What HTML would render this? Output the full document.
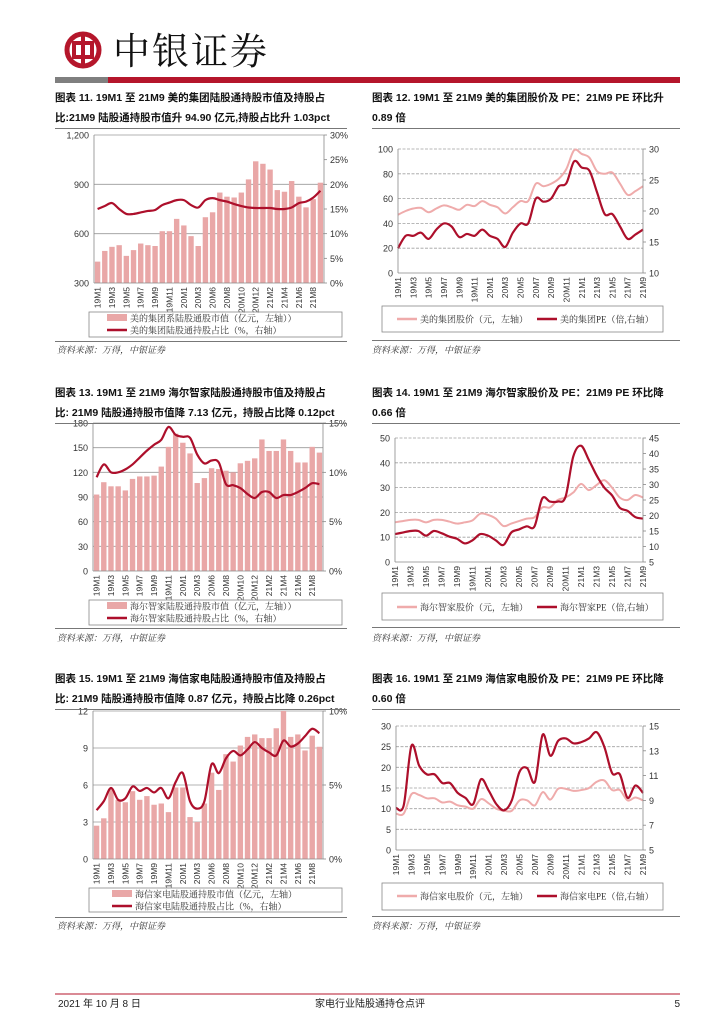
<!DOCTYPE html>
<html><head><meta charset="utf-8">
<style>
html,body{margin:0;padding:0;background:#fff;}
body{width:724px;height:1024px;position:relative;overflow:hidden;font-family:"Liberation Sans","Noto Sans CJK SC",sans-serif;}
.t{position:absolute;font-family:"Liberation Sans","Noto Sans CJK SC",sans-serif;font-weight:bold;font-size:10.5px;color:#111;white-space:nowrap;line-height:20px;}
.src{position:absolute;font-size:9px;font-style:italic;color:#333;font-family:"Liberation Serif","Noto Serif CJK SC",serif;}
.rule{position:absolute;height:1px;background:#777;}
</style></head>
<body>
<svg id="page" width="724" height="1024" style="position:absolute;left:0;top:0" xmlns="http://www.w3.org/2000/svg">
  <g>
    <circle cx="83" cy="50" r="16" fill="none" stroke="#b5162b" stroke-width="5"/>
    <rect x="74" y="43" width="18" height="14" fill="none" stroke="#b5162b" stroke-width="4"/>
    <rect x="81" y="34" width="4" height="32" fill="#b5162b"/>
  </g>
  <text x="113" y="64" font-family="Noto Serif CJK SC, serif" font-size="37" fill="#111" letter-spacing="2">中银证券</text>
  <rect x="55" y="77" width="53" height="6" fill="#7f7f7f"/>
  <rect x="108" y="77" width="572" height="6" fill="#b5162b"/>
  <line x1="55" y1="994" x2="680" y2="994" stroke="#b5162b" stroke-width="1"/>
  <text x="58" y="1007" font-size="10" fill="#222">2021 年 10 月 8 日</text>
  <text x="370" y="1007" font-size="10" fill="#222" text-anchor="middle">家电行业陆股通持仓点评</text>
  <text x="680" y="1007" font-size="10" fill="#222" text-anchor="end">5</text>
</svg>

<div class="t" style="left:55px;top:88px;">图表 11. 19M1 至 21M9 美的集团陆股通持股市值及持股占<br>比:21M9 陆股通持股市值升 94.90 亿元,持股占比升 1.03pct</div>
<div class="rule" style="left:55px;top:128px;width:292px;"></div>
<div class="t" style="left:372px;top:88px;">图表 12. 19M1 至 21M9 美的集团股价及 PE：21M9 PE 环比升<br>0.89 倍</div>
<div class="rule" style="left:372px;top:128px;width:308px;"></div>
<div class="t" style="left:55px;top:383px;">图表 13. 19M1 至 21M9 海尔智家陆股通持股市值及持股占<br>比: 21M9 陆股通持股市值降 7.13 亿元，持股占比降 0.12pct</div>
<div class="rule" style="left:55px;top:423px;width:292px;"></div>
<div class="t" style="left:372px;top:383px;">图表 14. 19M1 至 21M9 海尔智家股价及 PE：21M9 PE 环比降<br>0.66 倍</div>
<div class="rule" style="left:372px;top:423px;width:308px;"></div>
<div class="t" style="left:55px;top:669px;">图表 15. 19M1 至 21M9 海信家电陆股通持股市值及持股占<br>比: 21M9 陆股通持股市值降 0.87 亿元，持股占比降 0.26pct</div>
<div class="rule" style="left:55px;top:709px;width:292px;"></div>
<div class="t" style="left:372px;top:669px;">图表 16. 19M1 至 21M9 海信家电股价及 PE：21M9 PE 环比降<br>0.60 倍</div>
<div class="rule" style="left:372px;top:709px;width:308px;"></div>

<div class="rule" style="left:55px;top:341px;width:292px;"></div>
<div class="src" style="left:57px;top:343px;">资料来源：万得，中银证券</div>
<div class="rule" style="left:372px;top:340px;width:308px;"></div>
<div class="src" style="left:372px;top:343px;">资料来源：万得，中银证券</div>
<div class="rule" style="left:55px;top:628px;width:292px;"></div>
<div class="src" style="left:57px;top:631px;">资料来源：万得，中银证券</div>
<div class="rule" style="left:372px;top:627px;width:308px;"></div>
<div class="src" style="left:372px;top:631px;">资料来源：万得，中银证券</div>
<div class="rule" style="left:55px;top:917px;width:292px;"></div>
<div class="src" style="left:57px;top:919px;">资料来源：万得，中银证券</div>
<div class="rule" style="left:372px;top:916px;width:308px;"></div>
<div class="src" style="left:372px;top:919px;">资料来源：万得，中银证券</div>

<script>
// ---------- data ----------
const barCats = ["19M1","","19M3","","19M5","","19M7","","19M9","","19M11","","20M1","","20M3","","20M6","","20M8","","20M10","","20M12","","21M2","","21M4","","21M6","","21M8",""];
const lineCats = ["19M1","","19M3","","19M5","","19M7","","19M9","","19M11","","20M1","","20M3","","20M5","","20M7","","20M9","","20M11","","21M1","","21M3","","21M5","","21M7","","21M9"];

const c1Bars = [430,495,520,530,465,500,540,530,525,615,615,690,650,585,525,700,730,850,825,820,850,930,1040,1025,990,865,855,920,825,760,810,910];
const c1Line = [15,15.6,16.2,15,14,14,14.3,14.6,14.8,15.8,16.3,16.8,16.8,15.8,15.3,16.8,17.2,16.8,16.5,16,15.6,15.3,15.2,15.2,15.2,15,15,15.3,16.2,16.5,17.3,18.7];
const c1LeftTicks = [300,600,900,1200];
const c1LeftLabels = ["300","600","900","1,200"];
const c1RightTicks = [0,5,10,15,20,25,30];
const c1RightLabels = ["0%","5%","10%","15%","20%","25%","30%"];

const c2Price = [47,50,52,52.5,49,52,54.5,53,51,55,54,58,55,53,48,53,58,58,72,70,72,76,84,99,96,93,82,80,81,72,63,66,70];
const c2PE = [14,16,16,16.5,15.5,17,18,17.5,15.8,16.3,16,17,16,15.5,14.2,16.5,18,18,22,21.5,22,24,24.5,28,27,26.5,23,19.5,19.5,17.5,15.5,16.2,17];
const c2LeftTicks = [0,20,40,60,80,100];
const c2RightTicks = [10,15,20,25,30];

const c3Bars = [93,108,103,103,98,112,115,115,116,127,151,167,156,143,107,113,125,124,122,120,131,134,137,160,146,146,160,146,132,132,151,144];
const c3Line = [9.5,10.8,10,10,10.3,10.8,11.5,12.2,12.8,13.3,14.6,13.8,13.6,13.5,11.8,10.9,11.2,11,8.8,8.7,8.4,7.8,7.4,8,8,7.4,7.7,7.7,8,8.4,8.9,8.8];
const c3LeftTicks = [0,30,60,90,120,150,180];
const c3RightTicks = [0,5,10,15];
const c3RightLabels = ["0%","5%","10%","15%"];

const c4Price = [16,16.5,17,17,16,17,17,16.3,15.5,16,16.8,19.5,19,17.5,14.5,15.5,16.5,17.5,18,22,22,25,26,28,31.5,29,31,33,30,26,25,27,26];
const c4PE = [14,14.5,15,15,13.5,15,14.3,13.2,12.5,11,12,14,13.5,12,10.5,14.5,15.5,16.5,16.5,25.5,24.5,24.5,26,39,42.5,38,33,29,26.5,22.5,21.5,19.5,19];
const c4LeftTicks = [0,10,20,30,40,50];
const c4RightTicks = [5,10,15,20,25,30,35,40,45];

const c5Bars = [2.7,3.3,5.7,4.8,4.6,5.5,4.8,5.1,4.4,4.5,3.8,5.8,5.8,3.4,3,4.5,7,5.6,8.5,7.9,9.2,9.9,10.1,9.8,9.8,10.6,12,9.9,10.1,8.8,10,9.1];
const c5Line = [3.3,3.9,4.8,4,4.1,4.9,4.6,4.8,4.5,4.8,4.1,5.2,5.8,3.9,3.4,3.9,6.4,5.8,6.8,7.3,7,7.4,7.9,7.5,7.2,7,8,7.6,7.8,8.3,8.8,8.5];
const c5LeftTicks = [0,3,6,9,12];
const c5RightTicks = [0,5,10];
const c5RightLabels = ["0%","5%","10%"];

const c6Price = [8.8,8.8,13.5,13.3,12.5,12.5,11.5,11.7,10.8,10.5,10,12.3,11.3,10,9.5,9.5,12,12,10.8,14,12.2,14.8,14.8,14.3,14.5,15,16.5,16.8,14.5,14.5,12,12.7,12];
const c6PE = [8.4,8.6,13.4,11.8,11.1,11.1,10.4,10.4,9.6,9.2,8.7,10.7,9.8,8.7,8.2,9,11.3,11.6,10.5,14.3,12.6,13.8,14,13.6,13.7,14,14.5,13.3,11.2,11.1,9.2,10.2,9.6];
const c6LeftTicks = [0,5,10,15,20,25,30];
const c6RightTicks = [5,7,9,11,13,15];

// ---------- drawing ----------
const NS = "http://www.w3.org/2000/svg";
const page = document.getElementById("page");
const BAR = "#e9a7a7", DARK = "#ad0f2b", LIGHT = "#efabab", AX = "#888";

function mk(tag, attrs, parent) {
  const e = document.createElementNS(NS, tag);
  for (const k in attrs) e.setAttribute(k, attrs[k]);
  (parent || page).appendChild(e);
  return e;
}
function smooth(pts) {
  let d = "M" + pts[0][0] + "," + pts[0][1];
  for (let i = 0; i < pts.length - 1; i++) {
    const p0 = pts[Math.max(0, i - 1)], p1 = pts[i], p2 = pts[i + 1], p3 = pts[Math.min(pts.length - 1, i + 2)];
    const t = 6;
    const c1x = p1[0] + (p2[0] - p0[0]) / t, c1y = p1[1] + (p2[1] - p0[1]) / t;
    const c2x = p2[0] - (p3[0] - p1[0]) / t, c2y = p2[1] - (p3[1] - p1[1]) / t;
    d += " C" + c1x + "," + c1y + " " + c2x + "," + c2y + " " + p2[0] + "," + p2[1];
  }
  return d;
}
function axisY(min, max, y0, y1) { return v => y1 - (v - min) / (max - min) * (y1 - y0); }

function drawChart(id, o) {
  const g = mk("g", {});
  
  
  const yL = axisY(o.lt[0], o.lt[o.lt.length - 1], o.y0, o.y1);
  const yR = axisY(o.rt[0], o.rt[o.rt.length - 1], o.y0, o.y1);
  const n = o.cats.length;
  const xAt = o.mode === "bar" ? (i => o.x0 + (i + 0.5) * (o.x1 - o.x0) / n) : (i => o.x0 + i * (o.x1 - o.x0) / (n - 1));
  o.lt.forEach((v, i) => {
    const y = yL(v);
    if (i > 0) {
      const gl = mk("line", {x1: o.x0, x2: o.x1, y1: y, y2: y, stroke: o.mode === "bar" ? "#9a9a9a" : "#a0a0a0", "stroke-width": 0.8, "stroke-dasharray": o.mode === "bar" ? "none" : "3,1.5"}, g);
      
      
    }
    const t = mk("text", {x: o.x0 - 5, y: y + 3.5, "font-size": 9, fill: "#333", "text-anchor": "end"}, g);
    
    
    t.textContent = o.ll ? o.ll[i] : String(v);
  });
  o.rt.forEach((v, i) => {
    const y = yR(v);
    const t = mk("text", {x: o.x1 + 6, y: y + 3.5, "font-size": 9, fill: "#333"}, g);
    
    
    t.textContent = o.rl ? o.rl[i] : String(v);
    const tk = mk("line", {x1: o.x1, x2: o.x1 + 3, y1: y, y2: y, stroke: AX, "stroke-width": 0.8}, g);
    
    
  });
  if (o.bars) {
    const bw = (o.x1 - o.x0) / n * 0.75;
    o.bars.forEach((v, i) => {
      const y = yL(v);
      const r = mk("rect", {x: xAt(i) - bw / 2, y: y, width: bw, height: o.y1 - y, fill: BAR}, g);
      
      
    });
  }
  if (o.lineL) {
    const p = mk("path", {d: smooth(o.lineL.map((v, i) => [xAt(i), yL(v)])), fill: "none", stroke: LIGHT, "stroke-width": 2}, g);
    
    
  }
  if (o.lineR) {
    const p = mk("path", {d: smooth(o.lineR.map((v, i) => [xAt(i), yR(v)])), fill: "none", stroke: DARK, "stroke-width": 2.2}, g);
    
    
  }
  const a1 = mk("line", {x1: o.x0, x2: o.x0, y1: o.y0, y2: o.y1, stroke: AX, "stroke-width": 0.8}, g);
  
  
  const a2 = mk("line", {x1: o.x1, x2: o.x1, y1: o.y0, y2: o.y1, stroke: AX, "stroke-width": 0.8}, g);
  
  
  const a3 = mk("line", {x1: o.x0, x2: o.x1, y1: o.y1, y2: o.y1, stroke: AX, "stroke-width": 0.8}, g);
  
  
  o.cats.forEach((c, i) => {
    if (!c) return;
    const x = xAt(i) + 3;
    const t = mk("text", {x: x, y: o.y1 + 4, "font-size": 8.5, fill: "#333", "text-anchor": "end", transform: "rotate(-90 " + x + " " + (o.y1 + 4) + ")"}, g);
    
    
    t.textContent = c;
  });
  const L = o.leg;
  const box = mk("rect", {x: L.x, y: L.y, width: L.w, height: L.h, fill: "none", stroke: "#888", "stroke-width": 0.8}, g);
  
  
  L.items.forEach(it => {
    if (it.type === "bar") {
      const s = mk("rect", {x: it.x, y: it.y - 4, width: 20, height: 7, fill: BAR}, g);
      
      
    } else {
      const s = mk("line", {x1: it.x, x2: it.x + 20, y1: it.y, y2: it.y, stroke: it.type === "dark" ? DARK : LIGHT, "stroke-width": 2.5}, g);
      
      
    }
    const t = mk("text", {x: it.x + 23, y: it.y + 3.5, "font-size": 9, fill: "#333", "font-family": "Liberation Serif, Noto Serif CJK SC, serif"}, g);
    
    
    t.textContent = it.label;
  });
}

drawChart("chart11", {mode: "bar", x0: 94, x1: 324, y0: 135, y1: 283, cats: barCats, bars: c1Bars, lineR: c1Line,
  lt: c1LeftTicks, ll: c1LeftLabels, rt: c1RightTicks, rl: c1RightLabels,
  leg: {x: 89, y: 312, w: 253, h: 25, items: [{type: "bar", x: 107, y: 318, label: "美的集团系陆股通股市值（亿元，左轴））"}, {type: "dark", x: 107, y: 330, label: "美的集团陆股通持股占比（%，右轴）"}]}});
drawChart("chart12", {mode: "line", x0: 398, x1: 643, y0: 149, y1: 273, cats: lineCats, lineL: c2Price, lineR: c2PE,
  lt: c2LeftTicks, rt: c2RightTicks,
  leg: {x: 382, y: 306, w: 281, h: 26, items: [{type: "light", x: 397, y: 319, label: "美的集团股价（元，左轴）"}, {type: "dark", x: 537, y: 319, label: "美的集团PE（倍,右轴）"}]}});
drawChart("chart13", {mode: "bar", x0: 93, x1: 323, y0: 423, y1: 571, cats: barCats, bars: c3Bars, lineR: c3Line,
  lt: c3LeftTicks, rt: c3RightTicks, rl: c3RightLabels,
  leg: {x: 89, y: 600, w: 253, h: 25, items: [{type: "bar", x: 107, y: 606, label: "海尔智家陆股通持股市值（亿元，左轴））"}, {type: "dark", x: 107, y: 618, label: "海尔智家陆股通持股占比（%，右轴）"}]}});
drawChart("chart14", {mode: "line", x0: 395, x1: 643, y0: 438, y1: 562, cats: lineCats, lineL: c4Price, lineR: c4PE,
  lt: c4LeftTicks, rt: c4RightTicks,
  leg: {x: 382, y: 593, w: 281, h: 27, items: [{type: "light", x: 397, y: 607, label: "海尔智家股价（元，左轴）"}, {type: "dark", x: 537, y: 607, label: "海尔智家PE（倍,右轴）"}]}});
drawChart("chart15", {mode: "bar", x0: 93, x1: 323, y0: 711, y1: 859, cats: barCats, bars: c5Bars, lineR: c5Line,
  lt: c5LeftTicks, rt: c5RightTicks, rl: c5RightLabels,
  leg: {x: 89, y: 888, w: 253, h: 24, items: [{type: "bar", x: 112, y: 894, label: "海信家电陆股通持股市值（亿元，左轴）"}, {type: "dark", x: 112, y: 906, label: "海信家电陆股通持股占比（%，右轴）"}]}});
drawChart("chart16", {mode: "line", x0: 396, x1: 643, y0: 726, y1: 850, cats: lineCats, lineL: c6Price, lineR: c6PE,
  lt: c6LeftTicks, rt: c6RightTicks,
  leg: {x: 382, y: 883, w: 281, h: 27, items: [{type: "light", x: 397, y: 896, label: "海信家电股价（元，左轴）"}, {type: "dark", x: 537, y: 896, label: "海信家电PE（倍,右轴）"}]}});
</script>
</body></html>
